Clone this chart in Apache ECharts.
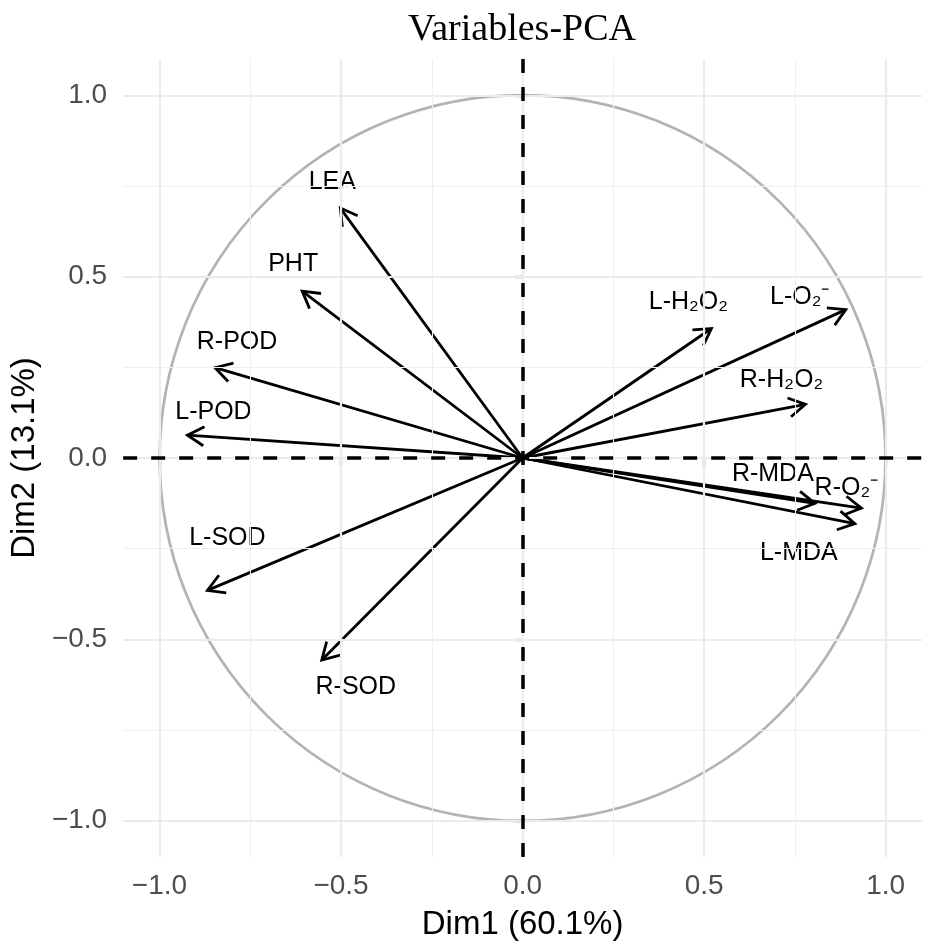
<!DOCTYPE html>
<html>
<head>
<meta charset="utf-8">
<title>Variables-PCA</title>
<script src="https://cdn.jsdelivr.net/npm/echarts@6/dist/echarts.min.js"></script>
<style>
  html, body { margin: 0; padding: 0; background: #fff; }
  #main { width: 926px; height: 949px; }
</style>
</head>
<body>
<div id="main"></div>
<script>
// variable coordinates on the first two dimensions
var varNames = ['LEA', 'PHT', 'R-POD', 'L-POD', 'L-H₂O₂', 'L-O₂⁻', 'R-H₂O₂', 'R-MDA', 'R-O₂⁻', 'L-MDA', 'L-SOD', 'R-SOD'];
var dim1 = [-0.502, -0.607, -0.847, -0.923, 0.520, 0.890, 0.779, 0.805, 0.933, 0.915, -0.868, -0.553];
var dim2 = [0.689, 0.460, 0.249, 0.063, 0.357, 0.409, 0.148, -0.125, -0.138, -0.181, -0.365, -0.557];

var majorTicks = [-1, -0.5, 0, 0.5, 1];
var minorTicks = [-0.75, -0.25, 0.25, 0.75];

// pixel nudges of the text labels away from the arrow tips
var labelNudge = [[-8, -26], [-9, -27], [22, -26], [26, -23], [-23, -26], [-46, -13],
                  [-24, -24], [-42, -29], [-15, -20], [-56, 29], [20, -52], [34, 27]];

var FONT = 'Liberation Sans, Arial, Helvetica, sans-serif';

function fmt(v) {
    return (v < 0 ? '\u2212' : '') + Math.abs(v).toFixed(1);
}

var points = [];
for (var i = 0; i < varNames.length; i++) {
    points.push([dim1[i], dim2[i], varNames[i], i]);
}

// grid lines (major + minor) drawn as mark lines
var gridLines = [];
majorTicks.forEach(function (v) {
    gridLines.push({xAxis: v, lineStyle: {color: '#EBEBEB', width: 2.2, type: 'solid'}});
    gridLines.push({yAxis: v, lineStyle: {color: '#EBEBEB', width: 2.2, type: 'solid'}});
});
minorTicks.forEach(function (v) {
    gridLines.push({xAxis: v, lineStyle: {color: '#EFEFEF', width: 1.1, type: 'solid'}});
    gridLines.push({yAxis: v, lineStyle: {color: '#EFEFEF', width: 1.1, type: 'solid'}});
});

var axisCommon = {
    type: 'value',
    min: -1.1,
    max: 1.1,
    axisLine: {show: false},
    splitLine: {show: false},
    minorSplitLine: {show: false},
    axisTick: {
        show: true,
        customValues: majorTicks,
        length: 8,
        lineStyle: {color: '#000', width: 2.2}
    },
    axisLabel: {
        customValues: majorTicks,
        formatter: fmt,
        color: '#4D4D4D',
        fontSize: 28,
        fontFamily: FONT
    },
    nameLocation: 'middle',
    nameTextStyle: {color: '#000', fontSize: 33, fontFamily: FONT}
};

var chart = echarts.init(document.getElementById('main'));

var option = {
    animation: false,
    backgroundColor: '#fff',
    title: {
        text: 'Variables-PCA',
        left: 517,
        top: 6,
        textAlign: 'center',
        textStyle: {
            fontFamily: 'Liberation Serif, Times New Roman, serif',
            fontWeight: 'normal',
            fontSize: 38,
            color: '#000'
        }
    },
    grid: {left: 123, top: 59, width: 799, height: 798},
    xAxis: Object.assign({}, axisCommon, {
        name: 'Dim1 (60.1%)',
        nameGap: 51,
        axisLabel: Object.assign({}, axisCommon.axisLabel, {margin: 15})
    }),
    yAxis: Object.assign({}, axisCommon, {
        name: 'Dim2 (13.1%)',
        nameGap: 82,
        axisLabel: Object.assign({}, axisCommon.axisLabel, {margin: 16})
    }),
    series: [
        {
            // background grid
            type: 'line',
            data: [],
            z: 1,
            silent: true,
            markLine: {
                silent: true,
                symbol: 'none',
                label: {show: false},
                animation: false,
                data: gridLines
            }
        },
        {
            // correlation circle
            type: 'custom',
            z: 2,
            silent: true,
            data: [[0, 0]],
            renderItem: function (params, api) {
                var c = api.coord([api.value(0), api.value(1)]);
                var r = api.size([1, 1]);
                return {
                    type: 'circle',
                    shape: {cx: c[0], cy: c[1], r: (r[0] + r[1]) / 2},
                    style: {fill: 'none', stroke: '#B3B3B3', lineWidth: 2.7}
                };
            },
            markLine: {
                silent: true,
                symbol: 'none',
                label: {show: false},
                animation: false,
                lineStyle: {color: '#000', width: 3.5, type: [14, 14]},
                data: [{xAxis: 0}, {yAxis: 0}]
            }
        },
        {
            // arrows
            type: 'custom',
            z: 3,
            silent: true,
            data: points,
            renderItem: function (params, api) {
                var o = api.coord([0, 0]);
                var p = api.coord([api.value(0), api.value(1)]);
                var a = Math.atan2(p[1] - o[1], p[0] - o[0]);
                var len = 19, half = Math.PI / 6;
                var h1 = [p[0] - len * Math.cos(a - half), p[1] - len * Math.sin(a - half)];
                var h2 = [p[0] - len * Math.cos(a + half), p[1] - len * Math.sin(a + half)];
                return {
                    type: 'group',
                    children: [
                        {
                            type: 'line',
                            shape: {x1: o[0], y1: o[1], x2: p[0], y2: p[1]},
                            style: {stroke: '#000', lineWidth: 2.8}
                        },
                        {
                            type: 'polyline',
                            shape: {points: [h1, p, h2]},
                            style: {stroke: '#000', fill: null, lineWidth: 2.8}
                        }
                    ]
                };
            }
        },
        {
            // variable labels
            type: 'custom',
            z: 4,
            silent: true,
            data: points,
            renderItem: function (params, api) {
                var idx = params.dataIndex;
                var p = api.coord([api.value(0), api.value(1)]);
                var nd = labelNudge[idx];
                return {
                    type: 'text',
                    style: {
                        text: varNames[idx],
                        x: p[0] + nd[0],
                        y: p[1] + nd[1],
                        fill: '#000',
                        fontSize: 25,
                        fontFamily: FONT,
                        align: 'center',
                        verticalAlign: 'middle'
                    }
                };
            }
        }
    ]
};

chart.setOption(option);
</script>
</body>
</html>
